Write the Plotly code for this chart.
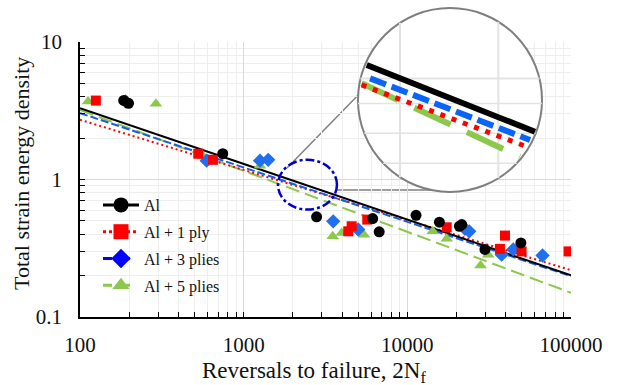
import plotly.graph_objects as go

# ---------------- data ----------------
al_n = [185, 198, 745, 2790, 6140, 6730, 11300, 15700, 20800, 21500, 29800, 49400]
al_w = [3.76, 3.58, 1.54, 0.535, 0.52, 0.416, 0.549, 0.489, 0.457, 0.47, 0.31, 0.346]

p1_n = [125, 528, 649, 4570, 4355, 5690, 17400, 39500, 36800, 49900, 96600]
p1_w = [3.75, 1.54, 1.39, 0.457, 0.42, 0.511, 0.449, 0.391, 0.313, 0.30, 0.30]

p3_n = [190, 594, 1258, 1413, 3525, 5010, 22500, 23900, 37700, 44400, 67000]
p3_w = [3.70, 1.37, 1.37, 1.39, 0.496, 0.433, 0.438, 0.42, 0.284, 0.31, 0.28]

p5_n = [112, 291, 566, 638, 1258, 3500, 3970, 5430, 14300, 17400, 31200, 28000]
p5_w = [3.69, 3.55, 1.47, 1.41, 1.26, 0.386, 0.409, 0.397, 0.42, 0.37, 0.284, 0.237]

# trend lines (power-law fits), end values
trend_n = [100, 100000]
trend_al = [3.30, 0.201]
trend_p1 = [2.72, 0.219]
trend_p3 = [3.04, 0.198]
trend_p5 = [3.21, 0.150]

# magnified inset (inset units 0-100)
inset_al_x, inset_al_y = [5.7, 95.2], [68.6, 33.1]
inset_p3_x, inset_p3_y = [7.5, 92.6], [61.5, 28.7]
inset_p1_x, inset_p1_y = [3.0, 90.8], [58.0, 25.2]
inset_p5_x, inset_p5_y = [3.0, 87.2], [58.9, 19.8]

# zoomed region marked by the dash-dot ellipse (data units)
zoom_n = [1620, 3715]
zoom_w = [0.604, 1.392]

labels = ["Al", "Al + 1 ply", "Al + 3 plies", "Al + 5 plies"]
x_ticks = [100, 1000, 10000, 100000]
y_ticks = [0.1, 1, 10]

# ---------------- styles ----------------
C_AL, C_P1, C_P3, C_P5 = "#000000", "#ff0000", "#1f6fef", "#8cc84b"
FONT = "Liberation Serif, Times New Roman, Times, DejaVu Serif, serif"

fig = go.Figure()

# trend lines
fig.add_trace(go.Scatter(x=trend_n, y=trend_p5, mode="lines", showlegend=False,
                         line=dict(color=C_P5, width=2, dash="14px,6px")))
fig.add_trace(go.Scatter(x=trend_n, y=trend_p1, mode="lines", showlegend=False,
                         line=dict(color=C_P1, width=2, dash="2px,3px")))
fig.add_trace(go.Scatter(x=trend_n, y=trend_p3, mode="lines", showlegend=False,
                         line=dict(color="#1a5ce8", width=2, dash="8px,3px")))
fig.add_trace(go.Scatter(x=trend_n, y=trend_al, mode="lines", showlegend=False,
                         line=dict(color=C_AL, width=2)))

# data points
fig.add_trace(go.Scatter(x=p5_n, y=p5_w, mode="markers", showlegend=False,
                         marker=dict(symbol="triangle-up", size=11, color=C_P5)))
fig.add_trace(go.Scatter(x=p3_n, y=p3_w, mode="markers", showlegend=False,
                         marker=dict(symbol="diamond", size=11, color=C_P3)))
fig.add_trace(go.Scatter(x=p1_n, y=p1_w, mode="markers", showlegend=False,
                         marker=dict(symbol="square", size=10, color=C_P1)))
fig.add_trace(go.Scatter(x=al_n, y=al_w, mode="markers", showlegend=False,
                         marker=dict(symbol="circle", size=11, color=C_AL)))

# legend entries
leg_styles = [
    (C_AL, "solid", "circle"),
    (C_P1, "dot", "square"),
    ("#0000ff", "dash", "diamond"),
    (C_P5, "dash", "triangle-up"),
]
for i, (lab, (c, d, s)) in enumerate(zip(labels, leg_styles)):
    fig.add_trace(go.Scatter(x=[None], y=[None], mode="lines+markers", name=lab,
                             legendgroup=f"g{i}",
                             line=dict(color=c, width=3, dash=d),
                             marker=dict(symbol=s, size=15, color=c)))

# inset traces
fig.add_trace(go.Scatter(x=inset_p5_x, y=inset_p5_y, mode="lines", showlegend=False,
                         xaxis="x2", yaxis="y2",
                         line=dict(color=C_P5, width=6, dash="40px,18px")))
fig.add_trace(go.Scatter(x=inset_p1_x, y=inset_p1_y, mode="lines", showlegend=False,
                         xaxis="x2", yaxis="y2",
                         line=dict(color=C_P1, width=5, dash="5px,7px")))
fig.add_trace(go.Scatter(x=inset_p3_x, y=inset_p3_y, mode="lines", showlegend=False,
                         xaxis="x2", yaxis="y2",
                         line=dict(color="#0a64f5", width=6, dash="17px,6px")))
fig.add_trace(go.Scatter(x=inset_al_x, y=inset_al_y, mode="lines", showlegend=False,
                         xaxis="x2", yaxis="y2",
                         line=dict(color=C_AL, width=6)))

W, H = 620, 385
ML, MR, MT, MB = 80, 49, 0, 68
PW, PH = W - ML - MR, H - MT - MB


def px(x):
    return (x - ML) / PW


def py(y):
    return (PH - y) / PH


shapes = []
# connectors (paper coords)
shapes.append(dict(type="line", xref="paper", yref="paper", layer="below",
                   x0=px(287), y0=py(168), x1=px(367), y1=py(86),
                   line=dict(color="#7f7f7f", width=1.5)))
shapes.append(dict(type="line", xref="paper", yref="paper", layer="below",
                   x0=px(337), y0=py(190), x1=px(432), y1=py(190),
                   line=dict(color="#7f7f7f", width=1.5)))
# magnifier circle
shapes.append(dict(type="circle", xref="x2", yref="y2", layer="below",
                   x0=1.06, x1=98.94, y0=1.06, y1=98.94,
                   fillcolor="white", line=dict(color="#7f7f7f", width=2)))
# inset grid
for (x0, y0, x1, y1, w) in [(23.4, 8.9, 23.4, 91.1, 2), (75.7, 8.4, 75.7, 91.6, 2),
                            (2.4, 61.5, 97.6, 61.5, 2), (1.1, 48.2, 98.9, 48.2, 1.5),
                            (4.4, 32.3, 95.6, 32.3, 1.5), (14.5, 16.3, 85.5, 16.3, 1.5)]:
    shapes.append(dict(type="line", xref="x2", yref="y2", layer="below",
                       x0=x0, y0=y0, x1=x1, y1=y1,
                       line=dict(color="#e3e3e3", width=w)))
# dash-dot ellipse marking the zoomed region
shapes.append(dict(type="circle", xref="x", yref="y", layer="above",
                   x0=zoom_n[0], x1=zoom_n[1], y0=zoom_w[0], y1=zoom_w[1],
                   line=dict(color="#0000cc", width=2.5, dash="dashdot")))

axis_common = dict(
    type="log", showline=True, linecolor="black", linewidth=1.5,
    ticks="inside", ticklen=5, tickcolor="black", tickwidth=1,
    showgrid=True, gridcolor="#d9d9d9", gridwidth=1,
    exponentformat="none", zeroline=False, mirror=False, automargin=False,
    tickfont=dict(family=FONT, size=21, color="#111111"),
    minor=dict(dtick="D1", ticks="inside", ticklen=5, tickcolor="black",
               showgrid=True, gridcolor="#eeeeee", gridwidth=1),
)

fig.update_layout(
    width=W, height=H,
    margin=dict(l=ML, r=MR, t=MT, b=MB, autoexpand=False),
    paper_bgcolor="white", plot_bgcolor="rgba(0,0,0,0)",
    font=dict(family=FONT, size=16, color="#111111"),
    xaxis=dict(axis_common, range=[2, 5], dtick=1, tickvals=x_ticks,
               ticktext=[str(v) for v in x_ticks], domain=[0, 1],
               ticklabelstandoff=8),
    yaxis=dict(axis_common, range=[-1, 1], dtick=1, tickvals=y_ticks,
               ticktext=["0.1", "1", "10"], domain=[0, (PH - 42) / PH],
               ticklabelstandoff=12),
    xaxis2=dict(domain=[px(356), px(544)], range=[0, 100], visible=False,
                anchor="y2", fixedrange=True),
    yaxis2=dict(domain=[py(194), py(6)], range=[0, 100], visible=False,
                anchor="x2", fixedrange=True),
    showlegend=True,
    legend=dict(x=px(98), y=py(188), xanchor="left", yanchor="top",
                bgcolor="rgba(0,0,0,0)", font=dict(family=FONT, size=16),
                tracegroupgap=3, itemsizing="trace", itemwidth=36),
    shapes=shapes,
    annotations=[
        dict(text="Total strain energy density", textangle=-90, xref="paper", yref="paper",
             x=px(22), y=py(174), xanchor="center", yanchor="middle", showarrow=False,
             font=dict(family=FONT, size=22)),
        dict(text="Reversals to failure, 2N<sub>f</sub>", xref="paper", yref="paper",
             x=px(314), y=py(372), xanchor="center", yanchor="middle", showarrow=False,
             font=dict(family=FONT, size=23)),
    ],
)

fig.write_html("out.html", config={"displayModeBar": False},
               post_script="document.body.style.margin='0px';")
